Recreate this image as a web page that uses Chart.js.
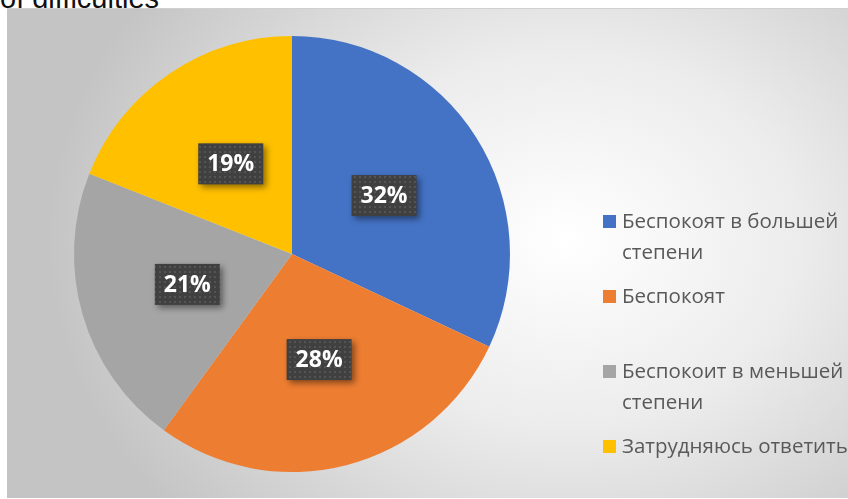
<!DOCTYPE html>
<html>
<head>
<meta charset="utf-8">
<script src="https://cdn.jsdelivr.net/npm/chart.js@4/dist/chart.umd.min.js"></script>
<style>
  body { margin: 0; width: 848px; height: 499px; overflow: hidden; background: #fff; position: relative; font-family: "Open Sans", sans-serif; }
  #title { position: absolute; left: 0; top: -18px; font: 29px "Liberation Sans", sans-serif; color: #111; white-space: nowrap; }
  #panel { position: absolute; left: 7px; top: 8px; width: 841px; height: 490px; overflow: hidden;
    background: radial-gradient(ellipse 520px 420px at 560px 230px, #ffffff 0%, #ececec 45%, #d6d6d6 75%, #c4c4c4 100%);
    border-top: 1px solid #d0d0d0; box-sizing: border-box; }
  #legend { position: absolute; left: 596px; top: 196px; width: 252px; }
  .item { height: 75px; display: flex; align-items: flex-start; font-size: 20.5px; line-height: 31px; color: #595959; }
  .box { width: 13px; height: 13px; flex: none; margin: 10px 6px 0 0; }
</style>
</head>
<body>
<div id="title">of difficulties</div>
<div id="panel">
  <canvas id="chart-canvas" width="841" height="490"></canvas>
  <div id="legend"></div>
</div>
<script>
'use strict';

const labels = ['Беспокоят в большей степени', 'Беспокоят', 'Беспокоит в меньшей степени', 'Затрудняюсь ответить'];
const shares = [32, 28, 21, 19];
const colors = ['#4472c4', '#ed7d31', '#a5a5a5', '#ffc000'];

// dark dotted pattern for the value boxes
function makePattern(ctx) {
    const p = document.createElement('canvas');
    p.width = 5;
    p.height = 5;
    const pc = p.getContext('2d');
    pc.fillStyle = '#404040';
    pc.fillRect(0, 0, 5, 5);
    pc.fillStyle = '#545454';
    pc.fillRect(2, 2, 2, 2);
    return ctx.createPattern(p, 'repeat');
}

const valueBoxes = {
    id: 'valueBoxes',
    afterDatasetsDraw(chart) {
        const ctx = chart.ctx;
        const meta = chart.getDatasetMeta(0);
        const pattern = makePattern(ctx);
        ctx.save();
        ctx.font = 'bold 23px "Open Sans", sans-serif';
        ctx.textAlign = 'center';
        ctx.textBaseline = 'middle';
        meta.data.forEach((arc, i) => {
            const pt = arc.getCenterPoint();
            const text = chart.data.datasets[0].data[i] + '%';
            const w = 65, h = 41;
            ctx.save();
            ctx.shadowColor = 'rgba(0,0,0,0.45)';
            ctx.shadowBlur = 6;
            ctx.shadowOffsetX = 3;
            ctx.shadowOffsetY = 3;
            ctx.fillStyle = pattern;
            ctx.fillRect(pt.x - w / 2, pt.y - h / 2, w, h);
            ctx.restore();
            ctx.fillStyle = '#ffffff';
            ctx.fillText(text, pt.x, pt.y + 1);
        });
        ctx.restore();
    }
};

const ctx = document.getElementById('chart-canvas').getContext('2d');
const pieChart = new Chart(ctx, {
    type: 'pie',
    data: {
        labels: labels,
        datasets: [{
            data: shares,
            backgroundColor: colors,
            borderWidth: 0
        }]
    },
    options: {
        responsive: false,
        animation: false,
        layout: { padding: { top: 27, bottom: 27, left: 66, right: 337 } },
        plugins: {
            legend: { display: false },
            tooltip: { enabled: false }
        }
    },
    plugins: [valueBoxes]
});

// legend on the right
const legend = document.getElementById('legend');
labels.forEach((name, i) => {
    const item = document.createElement('div');
    item.className = 'item';
    const box = document.createElement('span');
    box.className = 'box';
    box.style.background = colors[i];
    const txt = document.createElement('span');
    txt.innerText = name;
    item.appendChild(box);
    item.appendChild(txt);
    legend.appendChild(item);
});
</script>
</body>
</html>
